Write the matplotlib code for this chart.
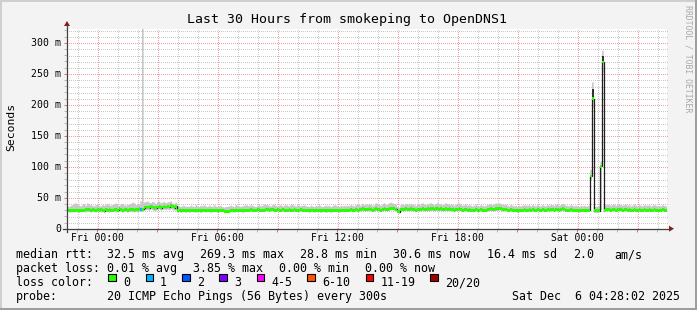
import numpy as np
import matplotlib
matplotlib.use("Agg")
import matplotlib.pyplot as plt
from matplotlib.patches import Rectangle, Polygon
from matplotlib.lines import Line2D
from matplotlib.ticker import FixedLocator, MultipleLocator
import matplotlib.transforms as mtrans

# ---------------- data ----------------
title = "Last 30 Hours from smokeping to OpenDNS1"
y_ticks = [0, 50, 100, 150, 200, 250, 300]
y_tick_labels = ["0", "50 m", "100 m", "150 m", "200 m", "250 m", "300 m"]
x_ticks_h = [0, 6, 12, 18, 24]
x_tick_labels = ["Fri 00:00", "Fri 06:00", "Fri 12:00", "Fri 18:00", "Sat 00:00"]
t_start_h = -1.5      # Thu 22:30, hours relative to Fri 00:00
t_end_h = 28.5        # Sat 04:30
step_min = 5

# median RTT (ms), one value per 5-minute step, one row per hour
median_ms = [
    30,30,29,30,30,30,29,30,30,30,30,31,
    31,31,30,31,30,30,31,30,31,30,29,31,
    30,31,30,30,31,31,30,32,31,30,31,31,
    30,31,31,31,30,31,31,32,31,31,34,35,
    35,34,36,35,33,34,35,36,34,35,36,35,
    36,35,37,36,34,36,30,30,29,30,30,29,
    30,29,30,30,30,29,30,30,29,30,30,30,
    30,30,29,30,30,30,29,30,30,30,28,28,
    28,28,30,30,29,30,30,30,30,29,30,30,
    30,30,31,30,30,30,31,30,30,30,30,31,
    31,30,31,31,30,30,31,30,30,31,30,30,
    30,31,30,30,31,30,30,30,31,30,30,30,
    30,29,30,30,29,30,30,30,29,30,30,29,
    30,30,29,30,30,30,30,29,30,30,30,30,
    30,30,31,30,30,31,30,31,31,32,31,31,
    31,32,31,30,31,32,31,31,30,31,32,31,
    31,32,33,33,32,31,28,27,31,31,31,32,
    31,31,32,31,31,30,31,31,31,32,31,31,
    32,31,32,32,31,32,32,31,32,31,31,32,
    31,32,31,31,30,31,31,32,31,30,31,31,
    30,31,30,30,30,31,30,30,31,30,30,30,
    31,31,32,31,31,32,32,33,32,31,31,31,
    30,30,31,30,30,30,29,30,30,30,31,30,
    30,31,30,31,30,30,31,30,30,31,30,30,
    31,30,31,31,30,31,31,30,31,32,31,30,
    30,30,31,30,30,30,30,29,30,30,30,30,
    30,30,85,210,29,29,29,29,101,269,30,31,
    31,31,30,31,31,30,31,31,31,30,31,31,
    30,31,30,30,31,30,30,31,30,30,31,30,
    30,31,30,30,31,30,30,30,30,31,30,30,
]

smoke_min_ms = [
    27,26,27,27,26,27,27,26,27,27,27,26,
    27,27,26,27,27,26,27,27,26,27,25,27,
    27,26,27,27,27,26,27,28,27,26,27,27,
    26,27,27,26,27,27,26,27,27,27,29,30,
    30,29,31,30,28,29,30,31,29,30,31,30,
    31,30,31,31,29,30,26,27,26,27,27,26,
    27,26,27,27,26,27,27,27,26,27,27,26,
    27,27,26,27,27,27,26,27,27,27,25,25,
    25,25,27,27,26,27,27,27,27,26,27,27,
    27,27,28,27,27,27,28,27,27,27,27,28,
    28,27,28,28,27,27,28,27,27,28,27,27,
    27,28,27,27,28,27,27,27,28,27,27,27,
    27,26,27,27,26,27,27,27,26,27,27,26,
    27,27,26,27,27,27,27,26,27,27,27,27,
    27,27,28,27,27,28,27,28,28,29,28,28,
    28,29,28,27,28,29,28,28,27,28,29,28,
    28,29,30,30,29,28,25,24,28,28,28,29,
    28,28,29,28,28,27,28,28,28,29,28,28,
    29,28,29,29,28,29,29,28,29,28,28,29,
    28,29,28,28,27,28,28,29,28,27,28,28,
    27,28,27,27,27,28,27,27,28,27,27,27,
    28,28,29,28,28,29,29,30,29,28,28,28,
    27,27,28,27,27,27,26,27,27,27,28,27,
    27,28,27,28,27,27,28,27,27,28,27,27,
    28,27,28,28,27,28,28,27,28,29,28,27,
    27,27,28,27,27,27,27,26,27,27,27,27,
    27,27,78,195,26,26,26,27,30,252,27,28,
    28,28,27,28,28,27,28,28,28,27,28,28,
    27,28,27,27,28,27,27,28,27,27,28,27,
    27,28,27,27,28,27,27,27,27,28,27,27,
]

smoke_max_ms = [
    36,35,37,38,40,41,39,37,36,38,40,37,
    41,39,38,37,36,38,39,37,36,38,37,39,
    40,38,37,38,39,41,38,37,39,40,38,37,
    38,39,40,42,41,38,40,39,44,330,42,43,
    44,42,41,43,42,40,43,44,41,42,43,41,
    42,43,44,41,40,42,37,36,35,36,37,35,
    36,35,37,36,35,38,36,35,37,36,38,36,
    35,37,36,35,38,36,35,36,37,35,34,35,
    35,36,37,36,35,38,37,36,35,36,37,38,
    37,36,38,37,36,35,37,38,36,37,39,38,
    38,37,36,38,39,37,36,37,38,36,37,38,
    37,36,38,39,37,36,38,37,36,37,38,36,
    36,35,37,36,35,37,36,38,36,35,36,37,
    36,37,35,36,38,37,36,35,37,36,37,36,
    37,36,38,37,36,38,39,38,37,40,38,39,
    38,40,39,37,38,41,39,38,37,39,41,38,
    39,41,42,41,40,39,35,34,38,39,38,40,
    39,38,40,39,38,37,39,40,38,41,39,38,
    40,39,41,40,38,40,41,39,40,38,39,41,
    39,40,38,39,37,39,40,41,39,37,38,39,
    37,38,37,36,37,39,37,36,38,37,36,37,
    38,39,40,38,39,41,40,41,40,39,38,39,
    37,36,38,37,36,37,35,37,36,37,38,37,
    37,38,36,38,37,36,38,37,36,38,37,36,
    38,37,39,38,37,39,40,37,38,40,39,37,
    37,36,38,37,36,37,36,35,37,36,37,36,
    36,37,95,236,36,35,36,36,108,287,37,38,
    38,39,37,38,39,37,38,39,38,37,38,39,
    37,38,36,37,39,37,36,38,37,36,38,37,
    37,38,36,37,38,37,36,37,36,38,37,36,
]

# steps with packet loss (index into loss colours)
loss_steps = [44]
loss_levels = [1]

# dense smoke core at the spikes
dense_steps = [315, 321]
dense_lo_ms = [210, 269]
dense_hi_ms = [226, 279]

loss_labels = ["0", "1", "2", "3", "4-5", "6-10", "11-19", "20/20"]
loss_colors = ["#26ff00", "#00b8ff", "#0059ff", "#7e00ff",
               "#ff00ff", "#ff5500", "#ff0000", "#a10000"]

row_rtt = [("median rtt:", 16), ("32.5 ms avg", 107), ("269.3 ms max", 200),
           ("28.8 ms min", 300), ("30.6 ms now", 393), ("16.4 ms sd", 487),
           ("2.0", 573), ("am/s", 614)]
row_loss = [("packet loss:", 16), ("0.01 % avg", 107), ("3.85 % max", 193),
            ("0.00 % min", 279), ("0.00 % now", 365)]
probe_text = "20 ICMP Echo Pings (56 Bytes) every 300s"
date_text = "Sat Dec  6 04:28:02 2025"

# ---------------- figure ----------------
W, H = 697, 310
BG = "#f3f3f3"
MONO = "DejaVu Sans Mono"

def fx(x):
    return x / W

def fy(y):
    return 1 - y / H

fig = plt.figure(figsize=(W / 100, H / 100), dpi=100, facecolor=BG)

px_left, px_right, px_top, px_bottom = 67, 667, 28.5, 228.7
ax = fig.add_axes([fx(px_left), fy(px_bottom), (px_right - px_left) / W,
                   (px_bottom - px_top) / H])
ax.set_facecolor("white")
ax.set_xlim(t_start_h, t_end_h)
ax.set_ylim(0, 323)
for s in ax.spines.values():
    s.set_visible(False)

# ticks (marks only)
ax.xaxis.set_major_locator(FixedLocator(np.arange(0, 28.01, 3)))
ax.xaxis.set_minor_locator(MultipleLocator(1))
ax.yaxis.set_major_locator(MultipleLocator(50))
ax.yaxis.set_minor_locator(MultipleLocator(10))
ax.tick_params(which="both", direction="out", labelleft=False, labelbottom=False)
ax.tick_params(which="major", length=2.5, width=0.72, color="#e07070")
ax.tick_params(which="minor", length=2.0, width=0.72, color="#b8b8b8")

# dotted grid drawn pixel by pixel (1 on / 1 off)
ident = mtrans.IdentityTransform()
x0_pix, y0_pix = ax.transData.transform((t_start_h, 0))
x1_pix, y1_pix = ax.transData.transform((t_end_h, 323))
xs_dots = np.arange(int(round(x0_pix)) + 1, int(round(x1_pix)), 2) + 0.5
ys_dots = np.arange(int(round(y0_pix)) + 1, int(round(y1_pix)), 2) + 0.5

def grid_dots(hvals, vvals, color, z):
    px_x, px_y = [], []
    for v in hvals:
        yy = np.floor(ax.transData.transform((0, v))[1]) + 0.5
        px_x.append(xs_dots)
        px_y.append(np.full(len(xs_dots), yy))
    for v in vvals:
        xx = np.floor(ax.transData.transform((v, 0))[0]) + 0.5
        px_x.append(np.full(len(ys_dots), xx))
        px_y.append(ys_dots)
    ax.plot(np.concatenate(px_x), np.concatenate(px_y), linestyle="none",
            marker="s", markersize=0.72, markeredgewidth=0, color=color,
            antialiased=False, transform=ident, zorder=z, clip_on=False)

minor_y = [v for v in range(10, 323, 10) if v % 50 != 0]
major_y = [v for v in range(50, 323, 50)]
minor_x = [h for h in range(-1, 29) if h % 3 != 0]
major_x = [h for h in range(0, 29, 3)]
grid_dots(minor_y, minor_x, "#c8c8c8", 1.0)
grid_dots(major_y, major_x, "#f5a0a0", 1.1)

n = len(median_ms)
edges = t_start_h + np.arange(n + 1) * step_min / 60.0
med = np.array(median_ms, float)
smin = np.array(smoke_min_ms, float)
smax = np.array(smoke_max_ms, float)

# smoke
ax.stairs(smax, edges, baseline=smin, fill=True, color="#c8c8c8", lw=0, zorder=2)
for i, lo, hi in zip(dense_steps, dense_lo_ms, dense_hi_ms):
    ax.bar(edges[i], hi - lo, width=step_min / 60.0, bottom=lo, align="edge",
           color="#323232", lw=0, zorder=3)

# median line
ax.stairs(med, edges, baseline=None, color="#202020", lw=0.9, zorder=4)

# loss-coloured median marks
colors = [loss_colors[0]] * n
for i, lv in zip(loss_steps, loss_levels):
    colors[i] = loss_colors[lv]
bar_h = 4.6
ax.bar(edges[:-1], np.full(n, bar_h), width=step_min / 60.0, bottom=med - bar_h / 2,
       align="edge", color=colors, lw=0, zorder=5)

# axis lines and arrows
AX_COL = "#404040"
ARROW = "#8b1a1a"
fig.add_artist(Line2D([fx(63), fx(670)], [fy(px_bottom), fy(px_bottom)],
                      color=AX_COL, lw=0.9))
fig.add_artist(Line2D([fx(px_left), fx(px_left)], [fy(232), fy(25)],
                      color=AX_COL, lw=0.9))
fig.add_artist(Polygon([[fx(669), fy(px_bottom - 3)], [fx(669), fy(px_bottom + 3)],
                        [fx(674), fy(px_bottom)]], closed=True, color=ARROW, lw=0))
fig.add_artist(Polygon([[fx(px_left - 3), fy(26)], [fx(px_left + 3), fy(26)],
                        [fx(px_left), fy(21)]], closed=True, color=ARROW, lw=0))

# tick labels
ty = mtrans.blended_transform_factory(fig.transFigure, ax.transData)
for v, lab in zip(y_ticks, y_tick_labels):
    ax.text(fx(61), v, lab, transform=ty, ha="right", va="center",
            fontsize=7.1, family=MONO, color="#000000")
tx = mtrans.blended_transform_factory(ax.transData, fig.transFigure)
for v, lab in zip(x_ticks_h, x_tick_labels):
    ax.text(v, fy(241), lab, transform=tx, ha="center", va="baseline",
            fontsize=7.0, family=MONO, color="#000000")

# title / labels
fig.text(fx(347), fy(19.5), title, ha="center", va="center", fontsize=9.5, family=MONO)
fig.text(fx(11), fy(127), "Seconds", rotation=90, ha="center", va="center",
         fontsize=8.2, family=MONO)
fig.text(fx(688), fy(59), "RRDTOOL / TOBI OETIKER", rotation=270, ha="center",
         va="center", fontsize=5.9, family=MONO, color="#a8a8a8")

# legend
LF = 8.35
for txt, x in row_rtt:
    fig.text(fx(x), fy(258), txt, ha="left", va="baseline", fontsize=LF, family=MONO)
for txt, x in row_loss:
    fig.text(fx(x), fy(272), txt, ha="left", va="baseline", fontsize=LF, family=MONO)
fig.text(fx(16), fy(286), "loss color:", ha="left", va="baseline", fontsize=LF, family=MONO)
box_x = [108.3, 145.7, 182.3, 219.3, 256.7, 307.3, 365.7, 430]
lab_x = [123.3, 160, 197.3, 234.3, 271.3, 322, 380.3, 445]
for bx, lx, lab, col in zip(box_x, lab_x, loss_labels, loss_colors):
    fig.add_artist(Rectangle((fx(bx), fy(281.3)), 7.7 / W, 7.7 / H, facecolor=col,
                             edgecolor="#000000", lw=0.8))
    fig.text(fx(lx), fy(286), lab, ha="left", va="baseline", fontsize=LF, family=MONO)
fig.text(fx(16), fy(300), "probe:", ha="left", va="baseline", fontsize=LF, family=MONO)
fig.text(fx(107), fy(300), probe_text, ha="left", va="baseline", fontsize=LF, family=MONO)
fig.text(fx(680), fy(300), date_text, ha="right", va="baseline", fontsize=LF, family=MONO)

# 3D frame
fig.add_artist(Rectangle((0, fy(2)), 1, 2 / H, color="#cfcfcf", lw=0))
fig.add_artist(Rectangle((0, 0), 2 / W, 1, color="#cfcfcf", lw=0))
fig.add_artist(Rectangle((0, 0), 1, 2 / H, color="#9e9e9e", lw=0))
fig.add_artist(Rectangle((fx(W - 2), 0), 2 / W, 1, color="#9e9e9e", lw=0))

fig.savefig("out.png", dpi=100, facecolor=BG)
